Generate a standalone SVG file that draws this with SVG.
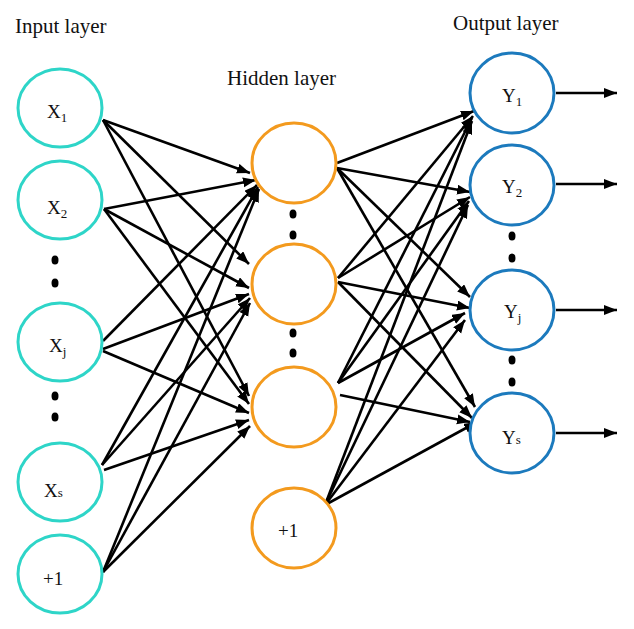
<svg xmlns="http://www.w3.org/2000/svg" width="634" height="629" viewBox="0 0 634 629">
<defs>
<marker id="ah" markerUnits="userSpaceOnUse" markerWidth="14" markerHeight="11" refX="13" refY="5" orient="auto">
<path d="M0,0 L13,5 L0,10 z" fill="#000"/>
</marker>
<style>
.in{fill:#fff;stroke:#2ed5c8;stroke-width:3}
.hid{fill:#fff;stroke:#f39a1e;stroke-width:3}
.out{fill:#fff;stroke:#1c7abd;stroke-width:3}
.title{font-family:"Liberation Serif",serif;font-size:21px;fill:#111}
.lbl{font-family:"Liberation Serif",serif;font-size:19px;fill:#111}
.sub{font-size:13px}
.c line{stroke:#000;stroke-width:2.6;marker-end:url(#ah)}
.dot{fill:#000}
</style>
</defs>
<rect width="634" height="629" fill="#fff"/>

<text class="title" x="15" y="33">Input layer</text>
<text class="title" x="227" y="85">Hidden layer</text>
<text class="title" x="453" y="30">Output layer</text>

<g id="connectors" class="c">
<line x1="103" y1="120" x2="250" y2="173"/>
<line x1="103" y1="120" x2="249" y2="264"/>
<line x1="103" y1="120" x2="249" y2="396"/>
<line x1="104" y1="209" x2="256" y2="180"/>
<line x1="104" y1="209" x2="249" y2="288"/>
<line x1="104" y1="209" x2="249" y2="404"/>
<line x1="103" y1="341" x2="257" y2="185"/>
<line x1="103" y1="349" x2="249" y2="294"/>
<line x1="103" y1="351" x2="249" y2="413"/>
<line x1="102" y1="465" x2="258" y2="187"/>
<line x1="102" y1="465" x2="250" y2="298"/>
<line x1="104" y1="470" x2="249" y2="420"/>
<line x1="103" y1="572" x2="259" y2="189"/>
<line x1="103" y1="572" x2="250" y2="303"/>
<line x1="103" y1="572" x2="250" y2="426"/>
<line x1="337" y1="163" x2="474" y2="111"/>
<line x1="337" y1="168" x2="470" y2="192"/>
<line x1="337" y1="168" x2="470" y2="297"/>
<line x1="337" y1="168" x2="475" y2="407"/>
<line x1="338" y1="278" x2="473" y2="116"/>
<line x1="338" y1="278" x2="470" y2="197"/>
<line x1="338" y1="282" x2="470" y2="308"/>
<line x1="338" y1="282" x2="472" y2="418"/>
<line x1="338" y1="383" x2="472" y2="118"/>
<line x1="338" y1="383" x2="469" y2="201"/>
<line x1="338" y1="383" x2="465" y2="313"/>
<line x1="340" y1="395" x2="470" y2="422"/>
<line x1="325" y1="505" x2="472" y2="121"/>
<line x1="325" y1="505" x2="468" y2="205"/>
<line x1="325" y1="505" x2="465" y2="320"/>
<line x1="325" y1="505" x2="477" y2="422"/>
<line x1="556" y1="93" x2="617" y2="93"/>
<line x1="556" y1="184" x2="617" y2="184"/>
<line x1="556" y1="310" x2="617" y2="310"/>
<line x1="556" y1="433" x2="617" y2="433"/>
</g>

<g id="in-x1"><ellipse class="in" cx="60" cy="108" rx="42" ry="39"/><text class="lbl" x="47" y="118">X<tspan class="sub" dy="4">1</tspan></text></g>
<g id="in-x2"><ellipse class="in" cx="60" cy="200" rx="42" ry="39"/><text class="lbl" x="47" y="214">X<tspan class="sub" dy="4">2</tspan></text></g>
<g id="in-xj"><ellipse class="in" cx="60" cy="342" rx="42" ry="39"/><text class="lbl" x="49" y="352">X<tspan class="sub" dy="4">j</tspan></text></g>
<g id="in-xs"><ellipse class="in" cx="60" cy="482" rx="42" ry="39"/><text class="lbl" x="44" y="497">X<tspan class="sub">s</tspan></text></g>
<g id="in-bias"><ellipse class="in" cx="60" cy="574" rx="42" ry="39"/><text class="lbl" x="43" y="585">+1</text></g>

<g id="in-dots">
<ellipse class="dot" cx="55" cy="260" rx="3.5" ry="4.5"/>
<ellipse class="dot" cx="55" cy="283" rx="3.5" ry="4.5"/>
<ellipse class="dot" cx="55" cy="396" rx="3.5" ry="4.5"/>
<ellipse class="dot" cx="55" cy="417" rx="3.5" ry="4.5"/>
</g>

<g id="hid-1"><ellipse class="hid" cx="294" cy="163" rx="42" ry="40"/></g>
<g id="hid-2"><ellipse class="hid" cx="294" cy="284" rx="42" ry="40"/></g>
<g id="hid-3"><ellipse class="hid" cx="294" cy="407" rx="42" ry="40"/></g>
<g id="hid-bias"><ellipse class="hid" cx="294" cy="528" rx="42" ry="40"/><text class="lbl" x="278" y="537">+1</text></g>

<g id="hid-dots">
<ellipse class="dot" cx="293" cy="214" rx="3.5" ry="4.5"/>
<ellipse class="dot" cx="293" cy="235" rx="3.5" ry="4.5"/>
<ellipse class="dot" cx="293" cy="333" rx="3.5" ry="4.5"/>
<ellipse class="dot" cx="293" cy="353" rx="3.5" ry="4.5"/>
</g>

<g id="out-y1"><ellipse class="out" cx="512" cy="93" rx="42" ry="40"/><text class="lbl" x="502" y="102">Y<tspan class="sub" dy="4">1</tspan></text></g>
<g id="out-y2"><ellipse class="out" cx="512" cy="185" rx="42" ry="40"/><text class="lbl" x="502" y="193">Y<tspan class="sub" dy="4">2</tspan></text></g>
<g id="out-yj"><ellipse class="out" cx="512" cy="310" rx="42" ry="40"/><text class="lbl" x="504" y="318">Y<tspan class="sub" dy="4">j</tspan></text></g>
<g id="out-ys"><ellipse class="out" cx="512" cy="433" rx="42" ry="40"/><text class="lbl" x="502" y="444">Y<tspan class="sub">s</tspan></text></g>

<g id="out-dots">
<ellipse class="dot" cx="512" cy="236" rx="3.5" ry="4.5"/>
<ellipse class="dot" cx="512" cy="258" rx="3.5" ry="4.5"/>
<ellipse class="dot" cx="512" cy="360" rx="3.5" ry="4.5"/>
<ellipse class="dot" cx="512" cy="382" rx="3.5" ry="4.5"/>
</g>
</svg>
